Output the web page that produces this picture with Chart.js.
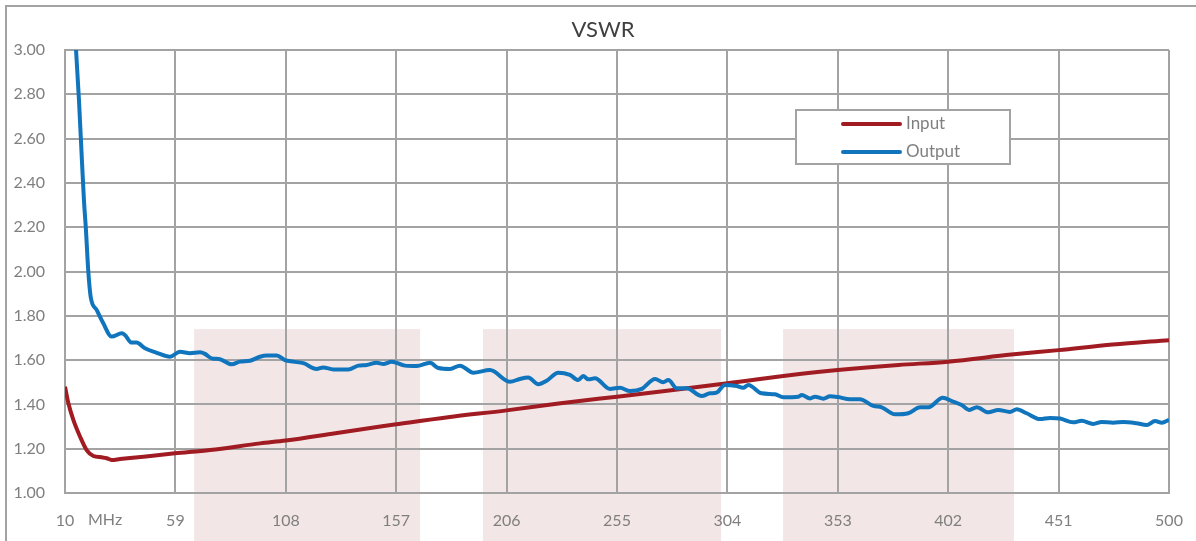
<!DOCTYPE html>
<html>
<head>
<meta charset="utf-8">
<script src="https://cdn.jsdelivr.net/npm/chart.js@4.4.1/dist/chart.umd.min.js"></script>
<style>
  html, body { margin: 0; padding: 0; background: #fff; }
  #wrap { width: 1196px; height: 541px; }
</style>
</head>
<body>
<div id="wrap"><canvas id="vswrChart" width="1196" height="541"></canvas></div>
<script>
// ticks
const xTicks = [10, 59, 108, 157, 206, 255, 304, 353, 402, 451, 500];
const yTicks = [1.0, 1.2, 1.4, 1.6, 1.8, 2.0, 2.2, 2.4, 2.6, 2.8, 3.0];

// Input VSWR (MHz / value)
const inputMHz = [10, 11.5, 13.7, 16.7, 19.6, 22.6, 26.3, 28.5, 30.7, 34.4, 44.8, 58.8, 74.4, 96.6,
  108, 130, 150, 157, 180, 206, 230, 255, 280, 304, 336, 353, 380, 402, 430, 451, 475, 500];
const inputVSWR = [1.48, 1.405, 1.33, 1.254, 1.194, 1.167, 1.161, 1.157, 1.149, 1.153, 1.164, 1.179, 1.194, 1.224,
  1.237, 1.27, 1.30, 1.31, 1.342, 1.373, 1.405, 1.435, 1.465, 1.495, 1.537, 1.555, 1.578, 1.593, 1.625, 1.645, 1.67, 1.69];

// Output VSWR (MHz / value)
const outputMHz = [10, 13, 14.9, 16.2, 17.5, 18.4, 19.3, 20.3, 21.4, 24.1, 27.0, 30.7, 35.2, 36.6, 39.6, 41.8, 45.5, 50.7, 56.6,
  61.0, 65.5, 69.9, 72.1, 75.1, 78.8, 84.0, 87.7, 92.1, 96.5, 99.5, 104.0, 107.6, 111.3, 115.8, 121.7, 124.6, 129.1,
  135.7, 140.2, 143.9, 148.3, 151.3, 155.0, 160.9, 166.1, 172.0, 175.7, 180.9, 185.3, 191.2, 198.6, 207.5, 211.9,
  215.6, 220.1, 223.8, 228.9, 234.1, 237.8, 240.0, 242.3, 245.2, 251.9, 256.3, 260.8, 266.0, 271.9, 275.5, 277.8,
  281.5, 285.9, 292.6, 296.3, 299.2, 302.9, 308.1, 311.0, 313.3, 319.2, 325.1, 328.8, 335.5, 337.0, 340.7, 342.9,
  346.6, 349.5, 353.2, 358.4, 362.8, 368.8, 372.5, 378.4, 384.3, 389.5, 393.2, 399.6, 403.6, 408.0, 411.4, 414.7,
  419.8, 424.2, 429.4, 432.4, 436.8, 442.7, 447.2, 451.6, 457.5, 461.2, 466.4, 470.1, 475.3, 479.7, 485.6, 490.1,
  493.8, 496.8, 500];
const outputVSWR = [3.9, 3.3, 3.0, 2.774, 2.503, 2.323, 2.187, 2.007, 1.885, 1.826, 1.766, 1.706, 1.721, 1.713, 1.679, 1.679, 1.653, 1.633, 1.615,
  1.638, 1.631, 1.635, 1.628, 1.608, 1.604, 1.581, 1.593, 1.597, 1.615, 1.621, 1.621, 1.60, 1.593, 1.586, 1.56, 1.567, 1.558,
  1.558, 1.575, 1.578, 1.588, 1.582, 1.593, 1.575, 1.573, 1.588, 1.564, 1.560, 1.575, 1.543, 1.555, 1.502, 1.515,
  1.521, 1.491, 1.507, 1.543, 1.533, 1.510, 1.528, 1.513, 1.518, 1.470, 1.475, 1.460, 1.470, 1.515, 1.50, 1.51,
  1.473, 1.473, 1.438, 1.45, 1.453, 1.488, 1.483, 1.475, 1.488, 1.45, 1.446, 1.432, 1.435, 1.442, 1.427, 1.435,
  1.426, 1.437, 1.433, 1.423, 1.423, 1.393, 1.387, 1.355, 1.36, 1.387, 1.387, 1.430, 1.415, 1.397, 1.375, 1.387,
  1.364, 1.375, 1.366, 1.378, 1.36, 1.334, 1.339, 1.336, 1.319, 1.326, 1.312, 1.321, 1.317, 1.321, 1.315, 1.307,
  1.325, 1.317, 1.33];

// shaded frequency bands (MHz start / end), top value
const bandStart = [67.3, 195.5, 328.7];
const bandEnd = [167.6, 301.2, 431.2];
const bandTop = 1.74;

const gridColor = '#a3a3a3';
const textColor = '#7f7f7f';
const fontFamily = 'Lato, "Open Sans", sans-serif';

const decorPlugin = {
  id: 'decor',
  beforeDraw(chart) {
    const { ctx, scales: { x, y } } = chart;
    ctx.save();
    // outer frame
    ctx.strokeStyle = gridColor;
    ctx.lineWidth = 2;
    ctx.strokeRect(6, 6, chart.width + 10, chart.height + 10);
    // bands
    ctx.fillStyle = '#f3e6e6';
    const yTop = y.getPixelForValue(bandTop);
    bandStart.forEach((s, i) => {
      const x0 = x.getPixelForValue(s);
      const x1 = x.getPixelForValue(bandEnd[i]);
      ctx.fillRect(x0, yTop, x1 - x0, chart.height - yTop);
    });
    ctx.restore();
  },
  afterDraw(chart) {
    const { ctx, chartArea: ca, scales: { x } } = chart;
    ctx.save();
    // title
    ctx.font = '22px ' + fontFamily;
    ctx.fillStyle = '#404040';
    ctx.textAlign = 'center';
    ctx.textBaseline = 'middle';
    ctx.fillText('VSWR', chart.width / 2 + 5, 30);

    // unit label next to the first tick
    ctx.font = '16px ' + fontFamily;
    ctx.fillStyle = textColor;
    ctx.textAlign = 'left';
    ctx.fillText('MHz', x.getPixelForValue(xTicks[0]) + 23, ca.bottom + 27);

    // legend box
    const bx = ca.left + 731, by = ca.top + 60, bw = 214, bh = 54;
    ctx.fillStyle = '#ffffff';
    ctx.fillRect(bx, by, bw, bh);
    ctx.strokeStyle = gridColor;
    ctx.lineWidth = 2;
    ctx.strokeRect(bx, by, bw, bh);
    ctx.font = '17px ' + fontFamily;
    chart.data.datasets.forEach((ds, i) => {
      const ly = by + 14 + i * 28;
      ctx.strokeStyle = ds.borderColor;
      ctx.lineWidth = 4;
      ctx.lineCap = 'round';
      ctx.beginPath();
      ctx.moveTo(bx + 47, ly);
      ctx.lineTo(bx + 104, ly);
      ctx.stroke();
      ctx.fillStyle = textColor;
      ctx.fillText(ds.label, bx + 110, ly);
    });
    ctx.restore();
  }
};

const ctx = document.getElementById('vswrChart').getContext('2d');
new Chart(ctx, {
  type: 'line',
  data: {
    datasets: [
      {
        label: 'Input',
        data: inputMHz.map((m, i) => ({ x: m, y: inputVSWR[i] })),
        borderColor: '#a01c22',
        borderWidth: 4,
        pointRadius: 0,
        cubicInterpolationMode: 'monotone',
        order: 2
      },
      {
        label: 'Output',
        data: outputMHz.map((m, i) => ({ x: m, y: outputVSWR[i] })),
        borderColor: '#1075bc',
        borderWidth: 4,
        pointRadius: 0,
        cubicInterpolationMode: 'monotone',
        order: 1
      }
    ]
  },
  options: {
    responsive: false,
    animation: false,
    layout: { padding: { left: 0, right: 27, top: 50, bottom: 0 } },
    plugins: {
      legend: { display: false },
      tooltip: { enabled: false },
      title: { display: false }
    },
    scales: {
      x: {
        type: 'linear',
        min: 10,
        max: 500,
        afterBuildTicks: scale => { scale.ticks = xTicks.map(v => ({ value: v })); },
        afterFit: scale => {
          scale.height = 48;
          scale.paddingLeft = 0;
          scale.paddingRight = 0;
        },
        grid: { color: gridColor, lineWidth: 2, drawTicks: false },
        border: { color: gridColor, width: 2 },
        ticks: {
          color: textColor,
          padding: 18,
          maxRotation: 0,
          autoSkip: false,
          font: { family: fontFamily, size: 16 },
          callback: v => String(v)
        }
      },
      y: {
        min: 1,
        max: 3,
        afterBuildTicks: scale => { scale.ticks = yTicks.map(v => ({ value: v })); },
        afterFit: scale => { scale.width = 65; },
        grid: { color: gridColor, lineWidth: 2, drawTicks: false },
        border: { color: gridColor, width: 2 },
        ticks: {
          color: textColor,
          padding: 20,
          font: { family: fontFamily, size: 16 },
          callback: v => Number(v).toFixed(2)
        }
      }
    }
  },
  plugins: [decorPlugin]
});
</script>
</body>
</html>
